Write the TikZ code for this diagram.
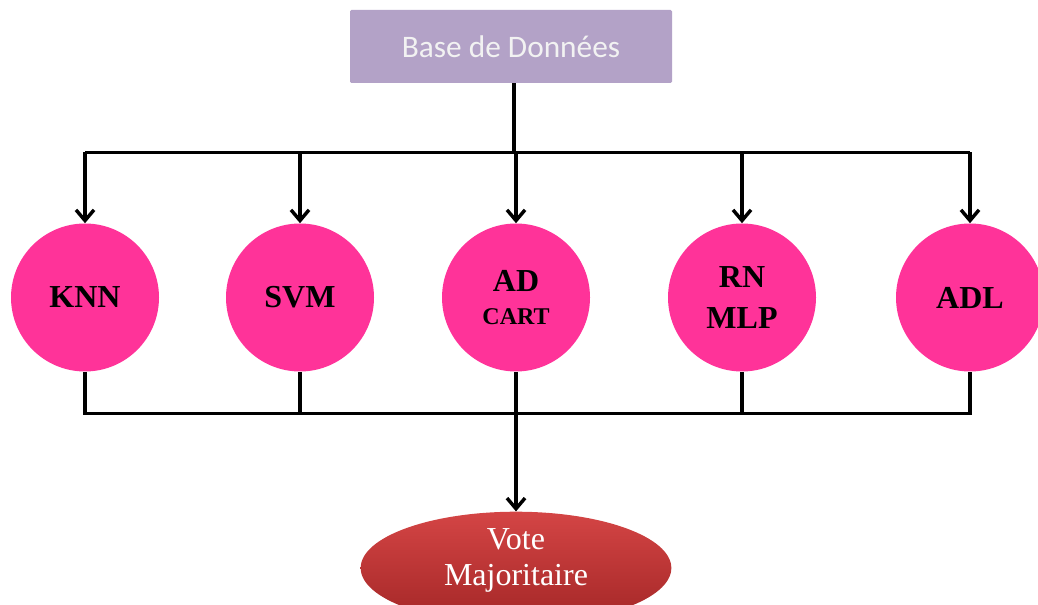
\documentclass[tikz,border=0pt]{standalone}
\usepackage{fontspec}
\setmainfont{Liberation Serif}
\newfontfamily\boxfont{Carlito}
\usepackage{tikz}
\usetikzlibrary{shapes.geometric}
\usetikzlibrary{arrows.meta}

\definecolor{dbpurple}{HTML}{B3A2C7}
\definecolor{clfpink}{HTML}{FF3399}
\definecolor{voteredtop}{HTML}{D44545}
\definecolor{voteredbot}{HTML}{A32626}

\tikzset{
    dbbox/.style={rectangle, fill=dbpurple, rounded corners=1pt,
        minimum width=241.5pt, minimum height=54.75pt,
        text=white!95!black, font=\boxfont\fontsize{23.5}{27}\selectfont},
    clf/.style={circle, fill=clfpink, minimum size=111pt, inner sep=0pt,
        align=center, font=\bfseries\fontsize{24}{31}\selectfont},
    votebox/.style={ellipse, top color=voteredtop, bottom color=voteredbot,
        minimum width=233pt, minimum height=84pt, inner sep=0pt, text depth=17pt,
        align=center, text=white, font=\fontsize{24}{27}\selectfont},
    link/.style={line width=2.6pt},
    flow/.style={line width=2.6pt, -{Straight Barb[length=8pt,width=13.5pt,line width=2.6pt]}}
}

\begin{document}
\begin{tikzpicture}[x=0.75pt, y=-0.75pt]
            \useasboundingbox (0,0) rectangle (1038,605);

            % Source and final decision
            \node[dbbox] (db) at (511,46.5) {Base de Données};
            \node[votebox] (vote) at (516,568) {Vote\\Majoritaire};

            % Classifiers
            \node[clf] (knn) at (85,297.5) {KNN};
            \node[clf] (svm) at (300,297.5) {SVM};
            \node[clf] (ad) at (516,297.5) {AD\\[-6pt]{\fontsize{18}{20}\selectfont CART}};
            \node[clf] (rn) at (742,297.5) {RN\\MLP};
            \node[clf] (adl) at (970,297.5) {ADL};

            % Bus lines
            \coordinate (split) at (514,152.5);
            \coordinate (merge) at (516,413.5);

            % Dispatch from the database to every classifier
            \draw[link] (db.south -| split) -- (split);
            \draw[link] (knn.north |- split) -- (adl.north |- split);
            \foreach \c in {knn,svm,ad,rn,adl}
                \draw[flow] (\c.north |- split) -- (\c.north);

            % Outputs gathered towards the vote
            \draw[link] (knn.south) -- (knn.south |- merge) -- (adl.south |- merge) -- (adl.south);
            \foreach \c in {svm,ad,rn}
                \draw[link] (\c.south) -- (\c.south |- merge);
            \draw[flow] (merge) -- (vote.north);
        \end{tikzpicture}
\end{document}
